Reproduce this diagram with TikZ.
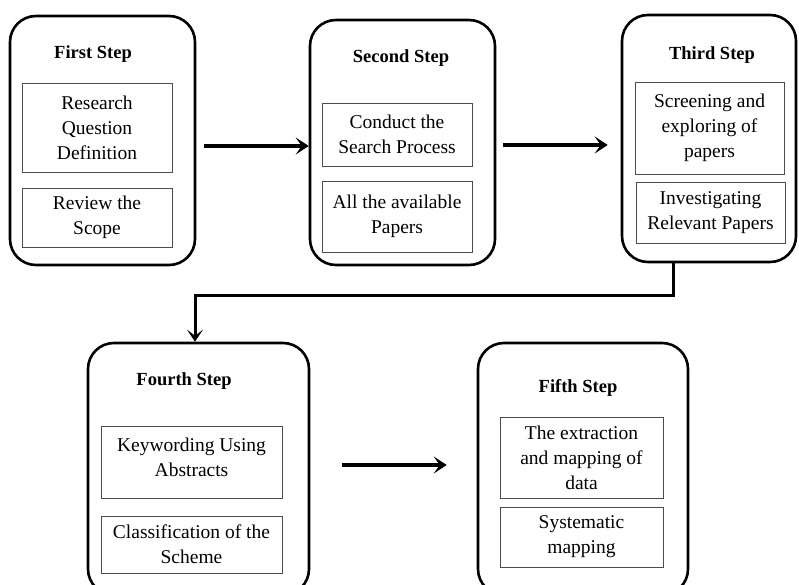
\documentclass[tikz,border=0pt]{standalone}
\usepackage{fontspec}
\setmainfont{Liberation Serif}
\usetikzlibrary{arrows.meta}
\begin{document}
\begin{tikzpicture}[x=1pt,y=-1pt,
  outer/.style={draw=black,line width=2.6pt,rounded corners=26pt,inner sep=0pt},
  lbl/.style={inner sep=0pt,align=center,font=\fontsize{19.5}{25}\selectfont},
  inner/.style={lbl,draw=black!70,line width=0.9pt},
  title/.style={font=\fontsize{18.5}{22}\selectfont\bfseries,inner sep=0pt},
  arr/.style={line width=3.4pt,-{Stealth[length=13pt,width=17pt,inset=6pt]}},
  conn/.style={line width=3pt}]
\useasboundingbox (0,0) rectangle (799,585);
\clip (0,0) rectangle (799,585);
% outer step boxes
\node[outer,minimum width=185pt,minimum height=249pt] (s1) at (102.5,140.5) {};
\node[outer,minimum width=185pt,minimum height=245pt] (s2) at (402.5,142.5) {};
\node[outer,minimum width=174pt,minimum height=247pt] (s3) at (709,138.5) {};
\node[outer,minimum width=221pt,minimum height=252pt] (s4) at (198.5,469) {};
\node[outer,minimum width=210pt,minimum height=252pt] (s5) at (583,469) {};
% titles
\node[title] (t1) at (93,54) {First Step};
\node[title] (t2) at (401,58) {Second Step};
\node[title] (t3) at (712,55) {Third Step};
\node[title] (t4) at (184,381) {Fourth Step};
\node[title] (t5) at (578,388) {Fifth Step};
% inner boxes
\node[inner,minimum width=150pt,minimum height=89pt] (b11) at (97,127.5) {Research\\Question\\Definition};
\node[inner,minimum width=150pt,minimum height=59pt] (b12) at (97,217.5) {Review the\\Scope};
\node[inner,minimum width=150pt,minimum height=63pt] (b21) at (397,134.5) {Conduct the\\Search Process};
\node[inner,minimum width=150pt,minimum height=71pt] (b22) at (397,216.5) {All the available\\Papers};
\node[inner,minimum width=149pt,minimum height=92pt] (b31) at (709.5,128) {Screening and\\exploring of\\papers};
\node[inner,minimum width=149pt,minimum height=61pt] (b32) at (710.5,212.5) {Investigating\\Relevant Papers};
\node[inner,minimum width=181pt,minimum height=72pt] (b41) at (191.5,462) {};
\node[lbl] (l41) at (191.5,457) {Keywording Using\\Abstracts};
\node[inner,minimum width=181pt,minimum height=57pt] (b42) at (191.5,544.5) {Classification of the\\Scheme};
\node[inner,minimum width=163pt,minimum height=81pt] (b51) at (581.5,457.5) {The extraction\\and mapping of\\data};
\node[inner,minimum width=163pt,minimum height=60pt] (b52) at (581.5,537) {Systematic\\mapping};
% arrows
\draw[arr] ([xshift=8pt,yshift=-5.5pt]s1.east) -- ([yshift=-5.5pt]s1.east -| s2.west);
\draw[arr] ([xshift=7pt,yshift=-2.5pt]s2.east) -- ([xshift=-13pt,yshift=-2.5pt]s2.east -| s3.west);
\draw[arr] ([xshift=32pt,yshift=4pt]s4.east) -- ([xshift=-30pt,yshift=4pt]s4.east -| s5.west);
% connector from third to fourth step
\coordinate (k1) at (673,295);
\coordinate (k2) at (195,295);
\draw[conn] (k1 |- s3.south) -- (k1) -- (k2);
\draw[conn,-{Stealth[length=12pt,width=16pt,inset=6pt]}] ([yshift=1.5pt]k2) -- (k2 |- s4.north);
\end{tikzpicture}
\end{document}
